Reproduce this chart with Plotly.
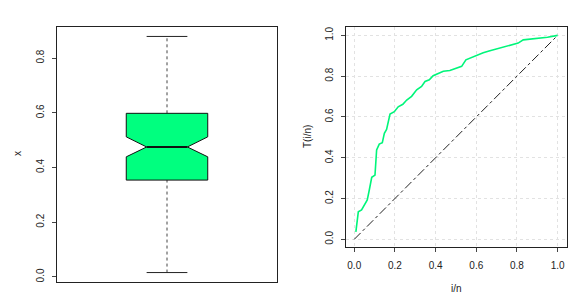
import plotly.graph_objects as go

# ---- data ----
# boxplot statistics of x
whisker_low = 0.016
q1 = 0.354
median = 0.475
q3 = 0.598
whisker_high = 0.879
notch_low = 0.439
notch_high = 0.512

# Lorenz-type curve T(i/n)
lorenz_p = [0.008, 0.02, 0.036, 0.053, 0.064, 0.074, 0.086, 0.102, 0.110, 0.123, 0.138,
            0.148, 0.159, 0.176, 0.197, 0.216, 0.239, 0.258, 0.282, 0.307, 0.331, 0.348,
            0.369, 0.388, 0.413, 0.438, 0.470, 0.495, 0.528, 0.549, 0.577, 0.602, 0.634,
            0.667, 0.733, 0.806, 0.831, 0.864, 0.897, 0.950, 1.0]
lorenz_T = [0.037, 0.135, 0.144, 0.176, 0.193, 0.242, 0.304, 0.315, 0.438, 0.467, 0.474,
            0.52, 0.539, 0.614, 0.626, 0.650, 0.662, 0.683, 0.701, 0.733, 0.750, 0.774,
            0.782, 0.802, 0.815, 0.824, 0.828, 0.836, 0.848, 0.880, 0.892, 0.905, 0.915,
            0.925, 0.943, 0.962, 0.978, 0.981, 0.983, 0.991, 1.0]

ticks_left = [0.0, 0.2, 0.4, 0.6, 0.8]
ticks_right = [0.0, 0.2, 0.4, 0.6, 0.8, 1.0]

GREEN = "#00FF7F"
CURVE = "#00F57A"
FONT = "Liberation Sans, Arial, sans-serif"

# box geometry (R boxplot: box at x=1, half-width 0.2, notch inner 0.1, staple 0.1)
cx = 1.0
bw = 0.2
nw = 0.1
sw = 0.1

fig = go.Figure()

# whiskers (dashed)
fig.add_trace(go.Scatter(x=[cx, cx], y=[q3, whisker_high], mode="lines",
                         line=dict(color="#444", width=1, dash="dot"),
                         xaxis="x", yaxis="y", showlegend=False, hoverinfo="skip"))
fig.add_trace(go.Scatter(x=[cx, cx], y=[whisker_low, q1], mode="lines",
                         line=dict(color="#444", width=1, dash="dot"),
                         xaxis="x", yaxis="y", showlegend=False, hoverinfo="skip"))
# staples
for v in (whisker_low, whisker_high):
    fig.add_trace(go.Scatter(x=[cx - sw, cx + sw], y=[v, v], mode="lines",
                             line=dict(color="#222", width=1),
                             xaxis="x", yaxis="y", showlegend=False, hoverinfo="skip"))
# notched box
bx = [cx - bw, cx - bw, cx - nw, cx - bw, cx - bw, cx + bw, cx + bw, cx + nw, cx + bw, cx + bw, cx - bw]
by = [q1, notch_low, median, notch_high, q3, q3, notch_high, median, notch_low, q1, q1]
fig.add_trace(go.Scatter(x=bx, y=by, mode="lines", fill="toself", fillcolor=GREEN,
                         line=dict(color="#111", width=1),
                         xaxis="x", yaxis="y", showlegend=False, hoverinfo="skip"))
# median
fig.add_trace(go.Scatter(x=[cx - nw, cx + nw], y=[median, median], mode="lines",
                         line=dict(color="#111", width=2),
                         xaxis="x", yaxis="y", showlegend=False, hoverinfo="skip"))

# right panel: diagonal and curve
fig.add_trace(go.Scatter(x=[0, 1], y=[0, 1], mode="lines",
                         line=dict(color="#222", width=1, dash="dashdot"),
                         xaxis="x2", yaxis="y2", showlegend=False, hoverinfo="skip"))
fig.add_trace(go.Scatter(x=lorenz_p, y=lorenz_T, mode="lines",
                         line=dict(color=CURVE, width=1.6),
                         xaxis="x2", yaxis="y2", showlegend=False, hoverinfo="skip"))

W, H = 580, 302
def dx(a, b):
    return [a / W, b / W]
def dy(top, bottom):
    return [1 - bottom / H, 1 - top / H]

axis_common = dict(showline=True, linecolor="#222", linewidth=1, mirror=True,
                   zeroline=False, tickfont=dict(size=10, color="#222", family=FONT))

def label(text, x, y, angle=0):
    return dict(text=text, x=x / W, y=1 - y / H, xref="paper", yref="paper",
                xanchor="center", yanchor="middle", showarrow=False, textangle=angle,
                font=dict(size=10, color="#222"))

fig.update_layout(
    width=W, height=H,
    margin=dict(l=0, r=0, t=0, b=0),
    paper_bgcolor="white", plot_bgcolor="white",
    font=dict(family=FONT, size=10, color="#222"),
    xaxis=dict(domain=dx(57, 277), range=[0.46, 1.54], showticklabels=False, ticks="",
               showgrid=False, **axis_common),
    yaxis=dict(domain=dy(27, 282), range=[-0.0185, 0.9135], tickvals=ticks_left,
               ticktext=[f"{v:.1f}" for v in ticks_left], ticks="outside", ticklen=4,
               tickangle=-90, showgrid=False, ticklabelstandoff=4, **axis_common),
    xaxis2=dict(domain=dx(345.7, 567), range=[-0.042, 1.046], tickvals=ticks_right,
                ticktext=[f"{v:.1f}" for v in ticks_right], ticks="outside", ticklen=4,
                showgrid=True, gridcolor="#e2e2e2", griddash="dot", gridwidth=1,
                ticklabelstandoff=5, anchor="y2", **axis_common),
    yaxis2=dict(domain=dy(27, 247.3), range=[-0.039, 1.041], tickvals=ticks_right,
                ticktext=[f"{v:.1f}" for v in ticks_right], ticks="outside", ticklen=4,
                tickangle=-90, showgrid=True, gridcolor="#e2e2e2", griddash="dot", gridwidth=1,
                ticklabelstandoff=4, anchor="x2", **axis_common),
    annotations=[
        label("x", 17, 154, -90),
        label("T(i/n)", 307, 137, -90),
        label("i/n", 456, 288),
    ],
)

fig.write_html("out.html", config={"displayModeBar": False},
               post_script="document.body.style.margin='0';")
